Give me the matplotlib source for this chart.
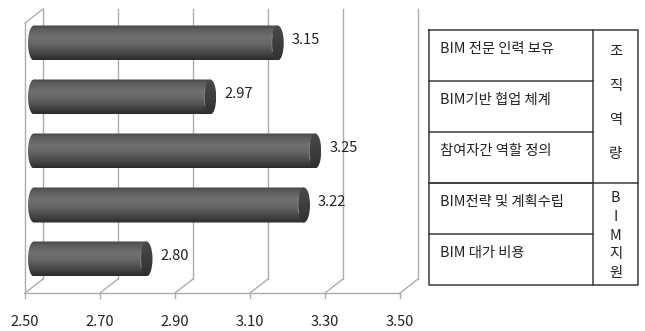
import numpy as np
import matplotlib
matplotlib.use("Agg")
import matplotlib.pyplot as plt
from matplotlib.path import Path
from matplotlib.patches import PathPatch, Ellipse, Arc
from matplotlib.colors import LinearSegmentedColormap

plt.rcParams['font.family'] = ['Noto Sans CJK KR', 'DejaVu Sans']

# ---- data ----
items = ["BIM 전문 인력 보유", "BIM기반 협업 체계", "참여자간 역할 정의",
         "BIM전략 및 계획수립", "BIM 대가 비용"]
values = [3.15, 2.97, 3.25, 3.22, 2.80]
groups = ["조직역량", "BIM지원"]
group_sizes = [3, 2]
xticks = [2.50, 2.70, 2.90, 3.10, 3.30, 3.50]

# ---- figure / scales ----
W, H = 645, 331
fig = plt.figure(figsize=(W / 100, H / 100), dpi=100)
fig.patch.set_facecolor("white")

px_x = 375.0          # pixels per value unit
px_y = 54.0           # pixels per category slot
x0_px, floor_px = 25, 293
ax = fig.add_axes([0, 0, 1, 1])
ax.set_xlim(xticks[0] - x0_px / px_x, xticks[0] + (W - x0_px) / px_x)
ax.set_ylim(-(H - floor_px) / px_y, floor_px / px_y)
ax.axis("off")

n = len(values)
dx = 18 / px_x        # depth offset of the 3D box
dy = 14 / px_y
grid_c = "#adadad"
glw = 1.0

# floor front edge, ticks and depth diagonals
ax.plot([xticks[0], xticks[-1]], [0, 0], color=grid_c, lw=glw, zorder=1)
for t in xticks:
    ax.plot([t, t], [0, -5 / px_y], color=grid_c, lw=glw, zorder=1)
    ax.plot([t, t + dx], [0, dy], color=grid_c, lw=glw, zorder=1)
    ax.plot([t + dx, t + dx], [dy, n + dy], color=grid_c, lw=glw, zorder=1)
    ax.text(t, -29 / px_y, f"{t:.2f}", ha="center", va="center",
            fontsize=10.5, color="#222222")
# left wall
ax.plot([xticks[0], xticks[0]], [0, n], color=grid_c, lw=glw, zorder=1)
ax.plot([xticks[0], xticks[0] + dx], [n, n + dy], color=grid_c, lw=glw, zorder=1)

# ---- cylinders ----
body_cmap = LinearSegmentedColormap.from_list(
    "cyl", [(0.0, "#454545"), (0.1, "#5a5a5a"), (0.35, "#717171"),
            (0.55, "#656565"), (0.8, "#474747"), (1.0, "#2b2b2b")])
cap_cmap = LinearSegmentedColormap.from_list(
    "cap", [(0.0, "#4a4a4a"), (0.5, "#3e3e3e"), (1.0, "#303030")])
grad = np.linspace(0, 1, 256).reshape(-1, 1)

r = 17.5 / px_y       # cylinder radius (vertical)
a = 6.0 / px_x        # half-width of the end ellipses
x_start = xticks[0] + dx / 2

for i, v in enumerate(values):
    yc = (n - 0.5 - i) + dy / 2
    x_end = v + dx / 2
    # body: rectangle with rounded left end
    th = np.linspace(np.pi / 2, 3 * np.pi / 2, 40)
    left = np.column_stack([x_start + a * np.cos(th), yc + r * np.sin(th)])
    verts = np.vstack([left, [[x_end, yc - r], [x_end, yc + r], left[0]]])
    body = PathPatch(Path(verts, closed=True), transform=ax.transData,
                     facecolor="none", edgecolor="none")
    ax.add_patch(body)
    im = ax.imshow(grad, extent=[x_start - a, x_end, yc - r, yc + r],
                   cmap=body_cmap, vmin=0, vmax=1, aspect="auto",
                   origin="upper", interpolation="bilinear", zorder=3)
    im.set_clip_path(body)
    # end cap
    cap = Ellipse((x_end, yc), 2 * a, 2 * r, transform=ax.transData,
                  facecolor="none", edgecolor="none")
    ax.add_patch(cap)
    imc = ax.imshow(grad, extent=[x_end - a, x_end + a, yc - r, yc + r],
                    cmap=cap_cmap, vmin=0, vmax=1, aspect="auto",
                    origin="upper", interpolation="bilinear", zorder=4)
    imc.set_clip_path(cap)
    ax.add_patch(Arc((x_end, yc), 2 * a, 2 * r, theta1=95, theta2=265,
                     color="#7c7c7c", lw=0.8, zorder=5))
    ax.text(v + dx + 5 / px_x, yc + 3.5 / px_y, f"{v:.2f}", ha="left",
            va="center", fontsize=10.5, color="#222222", zorder=6)

ax.set_xlim(xticks[0] - x0_px / px_x, xticks[0] + (W - x0_px) / px_x)
ax.set_ylim(-(H - floor_px) / px_y, floor_px / px_y)

# ---- side table ----
tx = fig.add_axes([0, 0, 1, 1])
tx.set_xlim(0, W)
tx.set_ylim(H, 0)
tx.axis("off")
tc = "#3a3a3a"
tlw = 1.1
fs = 10.3
c0, c1, c2 = 429, 593, 638
top, rh = 30, 51
bottom = top + rh * len(items)
tx.plot([c0, c2, c2, c0, c0], [top, top, bottom, bottom, top], color=tc, lw=tlw)
tx.plot([c1, c1], [top, bottom], color=tc, lw=tlw)
for k, label in enumerate(items):
    ry = top + rh * k
    if k > 0:
        tx.plot([c0, c1], [ry, ry], color=tc, lw=tlw)
    tx.text(c0 + 11, ry + 19, label, ha="left", va="center",
            fontsize=fs, color="#222222")
g_top = top
for g, size, off, step in zip(groups, group_sizes, [22, 15], [34, 18.8]):
    if g_top > top:
        tx.plot([c0, c2], [g_top, g_top], color=tc, lw=tlw)
    for j, ch in enumerate(g):
        tx.text((c1 + c2) / 2, g_top + off + step * j, ch, ha="center",
                va="center", fontsize=fs, color="#222222")
    g_top += rh * size

fig.savefig("out.png", dpi=100, facecolor="white")
